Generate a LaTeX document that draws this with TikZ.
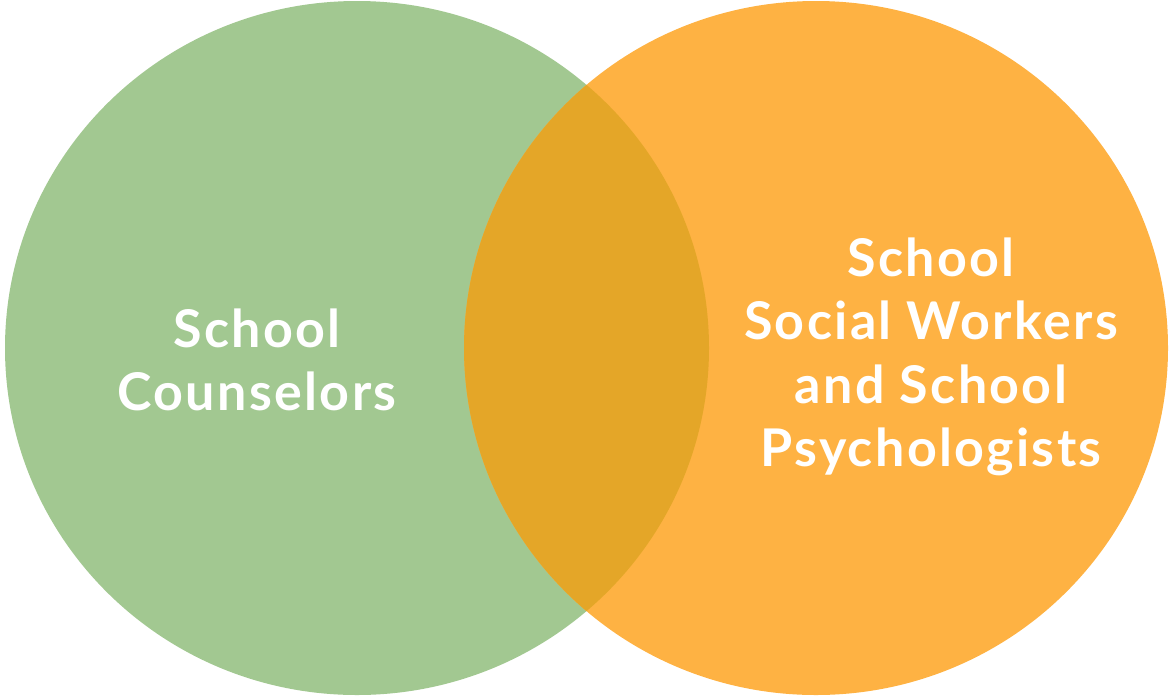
\documentclass[tikz,border=0pt]{standalone}
\usepackage{fontspec}
\newfontfamily\vennfont{Lato}[LetterSpace=4.5]
\usepackage{tikz}

\definecolor{counsgreen}{HTML}{A2C891}
\definecolor{socorange}{HTML}{FEB243}
\definecolor{bothgold}{HTML}{E4A628}

\begin{document}
\begin{tikzpicture}[x=1pt, y=-1pt,
    venntext/.style = {text=white, align=center, font=\vennfont\bfseries\fontsize{52}{63.5}\selectfont}]

    \useasboundingbox (0,0) rectangle (1169,697);

    \coordinate (L) at (357,348);
    \coordinate (R) at (816,348);

    \fill[counsgreen] (L) ellipse [x radius=352, y radius=347];
    \fill[socorange] (R) ellipse [x radius=352, y radius=347];
    \begin{scope}
        \clip (L) ellipse [x radius=352, y radius=347];
        \fill[bothgold] (R) ellipse [x radius=352, y radius=347];
    \end{scope}

    \node[venntext] (couns) at (257,360) {School\\Counselors};
    \node[venntext] (social) at (931,357) {School\\Social Workers\\and School\\Psychologists};

\end{tikzpicture}
\end{document}
